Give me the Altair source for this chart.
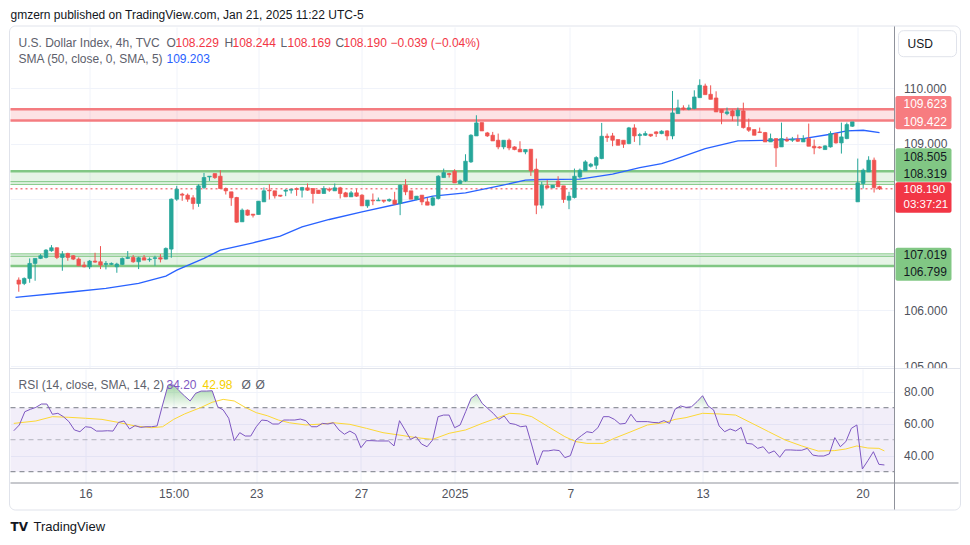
import altair as alt
import pandas as pd

# ---------------- data ----------------
opens = [106.547, 106.487, 106.577, 106.847, 106.937, 106.955, 107.075, 107.129, 106.955, 107.027,
         106.985, 106.925, 106.817, 106.787, 106.889, 106.877, 106.829, 106.829, 106.787, 106.829,
         106.937, 106.955, 106.877, 106.949, 106.913, 106.937, 106.949, 106.925, 107.105, 108.004,
         108.094, 108.076, 108.028, 107.926, 108.214, 108.405, 108.465, 108.417, 108.196, 108.136,
         108.034, 107.596, 107.806, 107.734, 107.728, 107.956, 108.166, 108.154, 108.076, 108.148,
         108.166, 108.196, 108.166, 108.208, 108.196, 108.166, 108.106, 108.184, 108.154, 108.208,
         108.118, 108.046, 108.118, 108.076, 107.884, 107.986, 107.974, 107.986, 107.974, 107.986,
         107.926, 108.256, 108.154, 107.998, 108.076, 107.956, 107.896, 108.016, 108.393, 108.465,
         108.507, 108.286, 108.334, 108.675, 109.143, 109.383, 109.197, 109.155, 109.065, 108.945,
         109.065, 108.945, 108.903, 108.855, 108.903, 108.543, 107.896, 108.244, 108.208, 108.328,
         108.244, 107.986, 108.034, 108.405, 108.513, 108.597, 108.615, 108.735, 109.137, 109.143,
         109.077, 109.065, 109.005, 109.287, 109.149, 109.155, 109.173, 109.215, 109.185, 109.233,
         109.143, 109.545, 109.647, 109.623, 109.635, 109.832, 110.042, 109.892, 109.826, 109.617,
         109.545, 109.593, 109.503, 109.593, 109.293, 109.257, 109.215, 109.203, 109.035, 109.095,
         108.945, 109.077, 109.065, 109.083, 109.035, 109.095, 108.957, 108.945, 108.897, 108.945,
         109.185, 109.017, 109.095, 109.317, 107.956, 108.286, 108.495, 108.705, 108.229]
highs = [106.595, 106.595, 106.937, 106.937, 107.015, 107.105, 107.177, 107.135, 107.069, 107.039,
         106.997, 106.955, 106.877, 106.907, 107.039, 107.159, 106.889, 106.865, 106.859, 106.955,
         107.069, 106.997, 106.967, 106.997, 106.955, 106.985, 107.015, 107.135, 108.016, 108.244,
         108.118, 108.106, 108.076, 108.274, 108.477, 108.417, 108.465, 108.525, 108.214, 108.136,
         108.046, 107.836, 107.818, 107.734, 107.968, 108.214, 108.274, 108.154, 108.076, 108.184,
         108.184, 108.214, 108.226, 108.286, 108.196, 108.166, 108.238, 108.214, 108.286, 108.226,
         108.136, 108.154, 108.184, 108.094, 107.986, 108.106, 108.034, 107.986, 108.016, 108.136,
         108.268, 108.364, 108.154, 108.058, 108.076, 108.028, 108.058, 108.435, 108.555, 108.477,
         108.543, 108.358, 108.813, 109.173, 109.515, 109.383, 109.215, 109.215, 109.185, 109.065,
         109.095, 108.957, 109.047, 108.897, 108.903, 108.735, 108.316, 108.346, 108.256, 108.417,
         108.244, 108.136, 108.555, 108.555, 108.705, 108.657, 108.777, 109.377, 109.185, 109.197,
         109.077, 109.065, 109.305, 109.353, 109.197, 109.227, 109.173, 109.227, 109.245, 109.245,
         109.952, 109.796, 109.694, 109.706, 109.964, 110.162, 110.084, 110.054, 109.946, 109.617,
         109.653, 109.617, 109.653, 109.742, 109.455, 109.257, 109.293, 109.215, 109.185, 109.095,
         109.383, 109.125, 109.125, 109.167, 109.155, 109.365, 109.077, 108.957, 108.975, 109.227,
         109.185, 109.383, 109.383, 109.395, 108.735, 108.555, 108.777, 108.753, 108.244]
lows = [106.337, 106.457, 106.499, 106.535, 106.925, 106.937, 107.057, 106.925, 106.715, 106.895,
        106.907, 106.799, 106.775, 106.745, 106.859, 106.745, 106.739, 106.817, 106.679, 106.817,
        106.925, 106.859, 106.745, 106.907, 106.877, 106.805, 106.865, 106.919, 106.949, 107.974,
        107.974, 107.956, 107.818, 107.866, 108.184, 108.333, 108.369, 108.184, 108.088, 107.884,
        107.578, 107.596, 107.704, 107.674, 107.728, 107.956, 107.998, 108.016, 108.046, 108.058,
        108.106, 108.064, 108.034, 108.154, 107.926, 108.106, 108.106, 108.136, 108.154, 108.016,
        108.046, 108.046, 108.046, 107.884, 107.848, 107.896, 107.974, 107.938, 107.956, 107.914,
        107.716, 108.076, 108.004, 107.986, 107.896, 107.896, 107.878, 107.998, 108.393, 108.393,
        108.297, 108.274, 108.316, 108.657, 109.143, 109.233, 109.125, 109.053, 108.903, 108.903,
        108.885, 108.885, 108.855, 108.813, 108.423, 107.734, 107.836, 108.208, 108.208, 108.226,
        107.938, 107.824, 108.016, 108.375, 108.513, 108.573, 108.543, 108.723, 109.035, 108.957,
        108.975, 108.927, 108.993, 109.035, 108.975, 109.143, 109.125, 109.125, 109.173, 109.065,
        109.083, 109.545, 109.605, 109.605, 109.623, 109.832, 109.886, 109.802, 109.575, 109.353,
        109.515, 109.413, 109.323, 109.275, 109.215, 109.155, 109.197, 109.035, 109.035, 108.585,
        108.945, 109.035, 109.035, 109.035, 109.035, 108.957, 108.813, 108.915, 108.897, 108.933,
        109.005, 108.825, 109.083, 109.305, 107.956, 108.196, 108.495, 108.124, 108.169]
closes = [106.475, 106.577, 106.847, 106.937, 106.985, 107.087, 107.129, 106.955, 107.015, 106.955,
          106.925, 106.805, 106.787, 106.889, 106.871, 106.817, 106.847, 106.847, 106.835, 106.937,
          106.955, 106.877, 106.949, 106.907, 106.925, 106.949, 106.925, 107.117, 108.004, 108.184,
          108.076, 108.004, 107.926, 108.244, 108.394, 108.417, 108.393, 108.196, 108.154, 108.028,
          107.590, 107.806, 107.716, 107.716, 107.968, 108.154, 108.154, 108.064, 108.058, 108.166,
          108.184, 108.178, 108.214, 108.166, 108.106, 108.106, 108.196, 108.166, 108.208, 108.106,
          108.046, 108.118, 108.058, 107.884, 107.986, 107.974, 107.986, 107.968, 107.998, 107.914,
          108.256, 108.136, 108.004, 108.058, 107.956, 107.896, 108.028, 108.417, 108.483, 108.447,
          108.297, 108.334, 108.687, 109.155, 109.377, 109.233, 109.143, 109.053, 108.945, 109.065,
          108.927, 108.897, 108.855, 108.897, 108.513, 107.896, 108.256, 108.208, 108.256, 108.226,
          107.998, 108.058, 108.417, 108.525, 108.675, 108.633, 108.753, 109.137, 109.113, 109.065,
          108.975, 108.993, 109.287, 109.143, 109.167, 109.185, 109.143, 109.185, 109.227, 109.143,
          109.557, 109.647, 109.623, 109.647, 109.844, 110.054, 109.886, 109.802, 109.575, 109.563,
          109.575, 109.503, 109.605, 109.293, 109.245, 109.155, 109.203, 109.035, 109.095, 108.927,
          109.095, 109.053, 109.083, 109.047, 109.095, 108.957, 108.927, 108.927, 108.963, 109.185,
          109.017, 109.125, 109.347, 109.395, 108.298, 108.525, 108.705, 108.214, 108.190]

sma_idx = [-0.6, 10, 16, 22, 27, 29, 34, 37, 43, 48, 52, 57, 63, 70, 76, 82, 88, 93, 96, 103,
           109, 114, 118, 120, 126, 132, 138, 144, 149, 152, 155, 158]
sma_val = [106.235, 106.337, 106.397, 106.487, 106.619, 106.727, 106.937, 107.087, 107.219, 107.338,
           107.506, 107.638, 107.776, 107.926, 108.058, 108.118, 108.238, 108.346, 108.358, 108.364,
           108.454, 108.573, 108.645, 108.705, 108.915, 109.053, 109.065, 109.095, 109.173, 109.233,
           109.245, 109.203]

rsi = [55.6, 59.2, 67.5, 69.0, 70.2, 72.3, 72.3, 65.9, 66.5, 64.4,
       61.3, 56.1, 55.0, 58.1, 57.7, 55.4, 55.4, 55.6, 55.4, 60.8,
       61.7, 56.7, 58.8, 57.7, 58.1, 58.1, 58.6, 71.7, 84.2, 84.2,
       80.6, 77.3, 74.2, 79.0, 80.4, 80.4, 80.6, 70.6, 68.6, 63.4,
       49.4, 54.4, 52.3, 52.3, 58.1, 62.3, 61.9, 59.8, 59.8, 62.3,
       62.3, 62.3, 62.9, 61.9, 58.1, 58.1, 60.2, 59.8, 60.6, 56.1,
       53.4, 55.4, 53.4, 45.0, 49.4, 49.4, 49.2, 49.2, 49.2, 46.1,
       61.9, 56.1, 50.2, 51.9, 47.3, 45.6, 49.8, 64.4, 65.4, 65.4,
       57.5, 59.2, 67.5, 75.9, 78.4, 72.7, 69.6, 66.5, 62.7, 64.8,
       60.2, 59.6, 58.1, 58.6, 46.7, 34.2, 43.0, 43.0, 43.6, 43.2,
       38.8, 40.0, 49.8, 52.5, 55.0, 54.4, 57.5, 64.4, 64.4, 62.7,
       59.8, 60.2, 65.9, 61.3, 61.3, 61.3, 60.8, 60.6, 61.9, 60.2,
       69.0, 71.1, 70.2, 70.6, 73.8, 77.5, 71.1, 68.6, 58.6, 55.0,
       56.7, 55.4, 57.7, 47.7, 47.3, 44.6, 45.6, 41.5, 43.0, 39.0,
       43.6, 43.6, 43.4, 43.4, 44.6, 40.4, 39.8, 39.8, 41.1, 51.3,
       45.6, 48.8, 57.1, 59.2, 31.7, 36.9, 42.5, 34.6, 34.2]

rsi_sma_idx = [0, 4, 7, 10, 13, 16, 19, 22, 25, 27, 29, 31, 34, 36, 38, 40, 42, 44, 46, 48, 50,
               53, 56, 58, 61, 64, 67, 70, 73, 76, 79, 82, 85, 87, 90, 92, 94, 97, 100, 102, 104,
               107, 109, 112, 115, 118, 120, 122, 125, 128, 131, 134, 137, 140, 143, 146, 149,
               151, 153, 155, 157, 158]
rsi_sma_val = [60.2, 61.7, 64.4, 64.0, 63.4, 62.7, 60.8, 58.6, 57.5, 58.1, 62.7, 66.1, 70.2, 73.4,
               75.2, 74.2, 70.2, 66.9, 65.0, 62.3, 60.6, 59.2, 59.8, 60.6, 59.6, 57.1, 54.4, 52.9,
               51.3, 50.2, 54.0, 56.1, 60.2, 62.7, 66.5, 66.1, 64.4, 58.1, 51.9, 48.8, 47.7, 47.7,
               50.9, 55.0, 59.2, 60.6, 62.7, 63.8, 66.5, 66.1, 65.4, 60.2, 55.0, 49.8, 46.1, 42.9,
               43.2, 44.2, 46.1, 44.8, 44.6, 43.0]

tick_idx = [13, 29, 44, 63, 80, 101, 125, 154]
tick_lbl = ["16", "15:00", "23", "27", "2025", "7", "13", "20"]
price_ticks = [105, 106, 107, 108, 109, 110]
price_hidden = [107, 108]   # labels covered by the price tags in the reference
rsi_ticks = [40, 60, 80]
rsi_levels = [70, 50, 30]

zone_lo = [109.422, 108.27, 106.799]
zone_hi = [109.623, 108.505, 107.019]
zone_kind = ["res", "sup", "sup"]
line_price = [109.623, 109.422, 108.505, 108.319, 108.27, 107.019, 106.975, 106.799]
line_kind = ["red", "red", "green", "thin", "thin", "thin", "thin", "green"]
last_price = 108.190

# ---------------- styling / layout ----------------
FONT = "Liberation Sans"
UP, DOWN = "#26a69a", "#ef5350"
GRID = "#f0f3fa"
AXC = "#4f525c"
TXT = "#131722"
GREY = "#5d606b"
W, H1, H2 = 884, 341, 114
X_DOM = [-0.6, 159.83]
P_DOM = [104.964, 111.104]
R_DOM = [22.94, 94.19]

n = len(closes)
cdf = pd.DataFrame({"i": list(range(n)), "o": opens, "h": highs, "l": lows, "c": closes})
cdf["dir"] = ["up" if c >= o else "down" for o, c in zip(opens, closes)]
sdf = pd.DataFrame({"i": sma_idx, "v": sma_val})
zdf = pd.DataFrame({"lo": zone_lo, "hi": zone_hi, "kind": zone_kind})
ldf = pd.DataFrame({"p": line_price, "kind": line_kind})
rdf = pd.DataFrame({"i": list(range(len(rsi))), "rsi": rsi})
rsdf = pd.DataFrame({"i": rsi_sma_idx, "v": rsi_sma_val})

xs = alt.Scale(domain=X_DOM, nice=False, zero=False)
ps = alt.Scale(domain=P_DOM, nice=False, zero=False)
rs = alt.Scale(domain=R_DOM, nice=False, zero=False)
cscale = alt.Scale(domain=["up", "down"], range=[UP, DOWN])

x_grid = alt.Axis(values=tick_idx, labels=False, ticks=False, domain=False, grid=True,
                  gridColor=GRID, title=None)
hide_test = " || ".join(f"datum.value == {v}" for v in price_hidden)
p_axis = alt.Axis(orient="right", values=price_ticks,
                  labelExpr=f"({hide_test}) ? '' : format(datum.value, '.3f')",
                  labelFont=FONT, labelFontSize=12, labelColor=AXC, labelPadding=9, ticks=False,
                  domain=False, grid=True, gridColor=GRID, title=None, labelOverlap=False)

lab_expr = "''"
for v, l in reversed(list(zip(tick_idx, tick_lbl))):
    lab_expr = f"datum.value == {v} ? '{l}' : ({lab_expr})"
rx_axis = alt.Axis(values=tick_idx, labelExpr=lab_expr, labelFont=FONT, labelFontSize=12,
                   labelColor=AXC, labelPadding=5, ticks=False, domain=False, grid=True,
                   gridColor=GRID, title=None, labelOverlap=False, labelFlush=False,
                   labelFontWeight={"condition": {"test": "datum.label == '2025'", "value": "bold"},
                                    "value": "normal"})
ry_axis = alt.Axis(orient="right", values=rsi_ticks, format=".2f", labelFont=FONT,
                   labelFontSize=12, labelColor=AXC, labelPadding=9, ticks=False, domain=False,
                   grid=True, gridColor=GRID, title=None, labelOverlap=False)


def PX(f):
    return alt.X(f, scale=xs, axis=x_grid, title=None)


def PY(f):
    return alt.Y(f, scale=ps, axis=p_axis, title=None)


def RX(f):
    return alt.X(f, scale=xs, axis=rx_axis, title=None)


def RY(f):
    return alt.Y(f, scale=rs, axis=ry_axis, title=None)


def one():
    return pd.DataFrame({"t": ["_"]})


def label(text, x, y, color, size=12, weight="normal", align="left", font=FONT):
    return alt.Chart(pd.DataFrame({"t": [text]})).mark_text(
        align=align, baseline="middle", fontSize=size, fontWeight=weight, color=color, font=font
    ).encode(x=alt.value(x), y=alt.value(y), text="t:N")


def box(x1, x2, y1, y2, fill, stroke="#ffffff", sw=0, radius=0, fo=1):
    return alt.Chart(one()).mark_rect(
        fill=fill, fillOpacity=fo, stroke=stroke, strokeWidth=sw, cornerRadius=radius
    ).encode(x=alt.value(x1), x2=alt.value(x2), y=alt.value(y1), y2=alt.value(y2))


def hline(x1, x2, y, color, sw=1):
    return alt.Chart(one()).mark_rule(color=color, strokeWidth=sw).encode(
        x=alt.value(x1), x2=alt.value(x2), y=alt.value(y))


def vline(x, y1, y2, color, sw=1):
    return alt.Chart(one()).mark_rule(color=color, strokeWidth=sw).encode(
        x=alt.value(x), y=alt.value(y1), y2=alt.value(y2))


# ---------------- price panel ----------------
zones_red = alt.Chart(zdf).transform_filter("datum.kind == 'res'").mark_rect(
    color="#f23645", opacity=0.14).encode(
    x=alt.value(0), x2=alt.value(W), y=PY("lo:Q"), y2="hi:Q")
zones_green = alt.Chart(zdf).transform_filter("datum.kind == 'sup'").mark_rect(
    color="#4caf50", opacity=0.14).encode(
    x=alt.value(0), x2=alt.value(W), y=PY("lo:Q"), y2="hi:Q")
lines_red = alt.Chart(ldf).transform_filter("datum.kind == 'red'").mark_rule(
    color="#f47c80", strokeWidth=2.5).encode(x=alt.value(0), x2=alt.value(W), y=PY("p:Q"))
lines_green = alt.Chart(ldf).transform_filter("datum.kind == 'green'").mark_rule(
    color="#81c784", strokeWidth=2.5).encode(x=alt.value(0), x2=alt.value(W), y=PY("p:Q"))
lines_thin = alt.Chart(ldf).transform_filter("datum.kind == 'thin'").mark_rule(
    color="#81c784", strokeWidth=1).encode(x=alt.value(0), x2=alt.value(W), y=PY("p:Q"))
last_line = alt.Chart(pd.DataFrame({"p": [last_price]})).mark_rule(
    color="#f23645", strokeWidth=1, strokeDash=[2, 3]).encode(
    x=alt.value(0), x2=alt.value(W), y=PY("p:Q"))
sma_line = alt.Chart(sdf).mark_line(color="#2962ff", strokeWidth=1.3).encode(
    x=PX("i:Q"), y=PY("v:Q"))
wicks = alt.Chart(cdf).mark_rule(strokeWidth=1).encode(
    x=PX("i:Q"), y=PY("l:Q"), y2="h:Q",
    color=alt.Color("dir:N", scale=cscale, legend=None))
bodies = alt.Chart(cdf).mark_bar(size=3.6, strokeWidth=0.7).encode(
    x=PX("i:Q"), y=PY("o:Q"), y2="c:Q",
    color=alt.Color("dir:N", scale=cscale, legend=None),
    stroke=alt.Stroke("dir:N", scale=cscale, legend=None))

RED_T = "#f23645"
price_layers = [
    zones_red, zones_green, lines_red, lines_green, lines_thin, last_line, sma_line, wicks, bodies,
    label("gmzern published on TradingView.com, Jan 21, 2025 11:22 UTC-5", 0, -12.5, TXT, 12),
    label("U.S. Dollar Index, 4h, TVC", 8, 15.7, GREY),
    label("O", 156, 15.7, GREY), label("108.229", 165, 15.7, RED_T),
    label("H", 214, 15.7, GREY), label("108.244", 222, 15.7, RED_T),
    label("L", 270, 15.7, GREY), label("108.169", 277, 15.7, RED_T),
    label("C", 325, 15.7, GREY), label("108.190", 333, 15.7, RED_T),
    label("\u22120.039 (\u22120.04%)", 380, 15.7, RED_T),
    label("SMA (50, close, 0, SMA, 5)", 8, 32, GREY),
    label("109.203", 156, 32, "#2962ff"),
    # price scale tags
    box(885, 941, 69, 102.3, "#f77c80", radius=2),
    label("109.623", 893, 77.3, "#ffffff"), label("109.422", 893, 94.7, "#ffffff"),
    box(885, 941, 121.3, 154.7, "#81c784", radius=2),
    label("108.505", 893, 129.7, TXT), label("108.319", 893, 147, TXT),
    box(885, 941, 155.3, 185.7, "#f23645", radius=2),
    label("108.190", 893, 162.8, "#ffffff", 11.5), label("03:37:21", 893, 178.4, "#ffffff", 11.5),
    box(885, 941, 220.7, 253.7, "#81c784", radius=2),
    label("107.019", 893, 228, TXT), label("106.799", 893, 245.3, TXT),
    # currency button
    box(888, 946, 3.7, 29.7, "#ffffff", stroke="#e0e3eb", sw=1, radius=5),
    label("USD", 897, 17, TXT),
]
price = alt.layer(*price_layers).properties(width=W, height=H1)

# ---------------- RSI panel ----------------
band = alt.Chart(pd.DataFrame({"lo": [rsi_levels[2]], "hi": [rsi_levels[0]]})).mark_rect(
    color="#7e57c2", opacity=0.1).encode(
    x=alt.value(0), x2=alt.value(W), y=RY("lo:Q"), y2="hi:Q")
lvl_dark = alt.Chart(pd.DataFrame({"v": [rsi_levels[0], rsi_levels[2]]})).mark_rule(
    color="#787b86", strokeDash=[5, 4], strokeWidth=1).encode(
    x=alt.value(0), x2=alt.value(W), y=RY("v:Q"))
lvl_mid = alt.Chart(pd.DataFrame({"v": [rsi_levels[1]]})).mark_rule(
    color="#787b86", strokeDash=[5, 4], strokeWidth=1, opacity=0.5).encode(
    x=alt.value(0), x2=alt.value(W), y=RY("v:Q"))
ob_fill = alt.Chart(rdf).transform_calculate(
    top="max(datum.rsi, 70)", base="70").mark_area(
    color=alt.Gradient(gradient="linear",
                       stops=[alt.GradientStop(color="rgba(76,175,80,0.5)", offset=0),
                              alt.GradientStop(color="rgba(76,175,80,0.03)", offset=1)],
                       x1=1, x2=1, y1=0, y2=1)).encode(
    x=RX("i:Q"), y=RY("top:Q"), y2="base:Q")
rsi_line = alt.Chart(rdf).mark_line(color="#7e57c2", strokeWidth=1).encode(
    x=RX("i:Q"), y=RY("rsi:Q"))
rsi_sma = alt.Chart(rsdf).mark_line(color="#fdd835", strokeWidth=1).encode(
    x=RX("i:Q"), y=RY("v:Q"))

rsi_layers = [
    band, lvl_dark, lvl_mid, ob_fill, rsi_sma, rsi_line,
    label("RSI (14, close, SMA, 14, 2)", 8, 15.5, GREY),
    label("34.20", 156, 15.5, "#7e57c2"),
    label("42.98", 192, 15.5, "#f5d000"),
    label("\u00d8", 231, 15.5, GREY), label("\u00d8", 245, 15.5, GREY),
    # mask / separators / frame
    box(885, 949, -1, 5, "#ffffff"),
    hline(-1, 950, -0.5, "#e0e3eb"),
    hline(0, 948, H2, "#8f929b"),
    vline(W, -343, 141, "#8f929b"),
    alt.Chart(one()).mark_rect(fillOpacity=0, stroke="#e0e3eb", strokeWidth=1,
                               cornerRadius=6).encode(
        x=alt.value(-1), x2=alt.value(950), y=alt.value(-343), y2=alt.value(141)),
    label("TV", 0, 158, TXT, 12, "bold", font="DejaVu Sans"),
    label("TradingView", 23, 158, TXT, 13),
]
rsi_panel = alt.layer(*rsi_layers).properties(width=W, height=H2)

chart = alt.vconcat(price, rsi_panel, spacing=1, bounds="flush").properties(
    padding={"left": 0.5, "top": 0, "right": 0, "bottom": 0}, background="white"
).configure_view(stroke=None)

chart.save("out.html", embed_options={"renderer": "svg", "actions": False})
